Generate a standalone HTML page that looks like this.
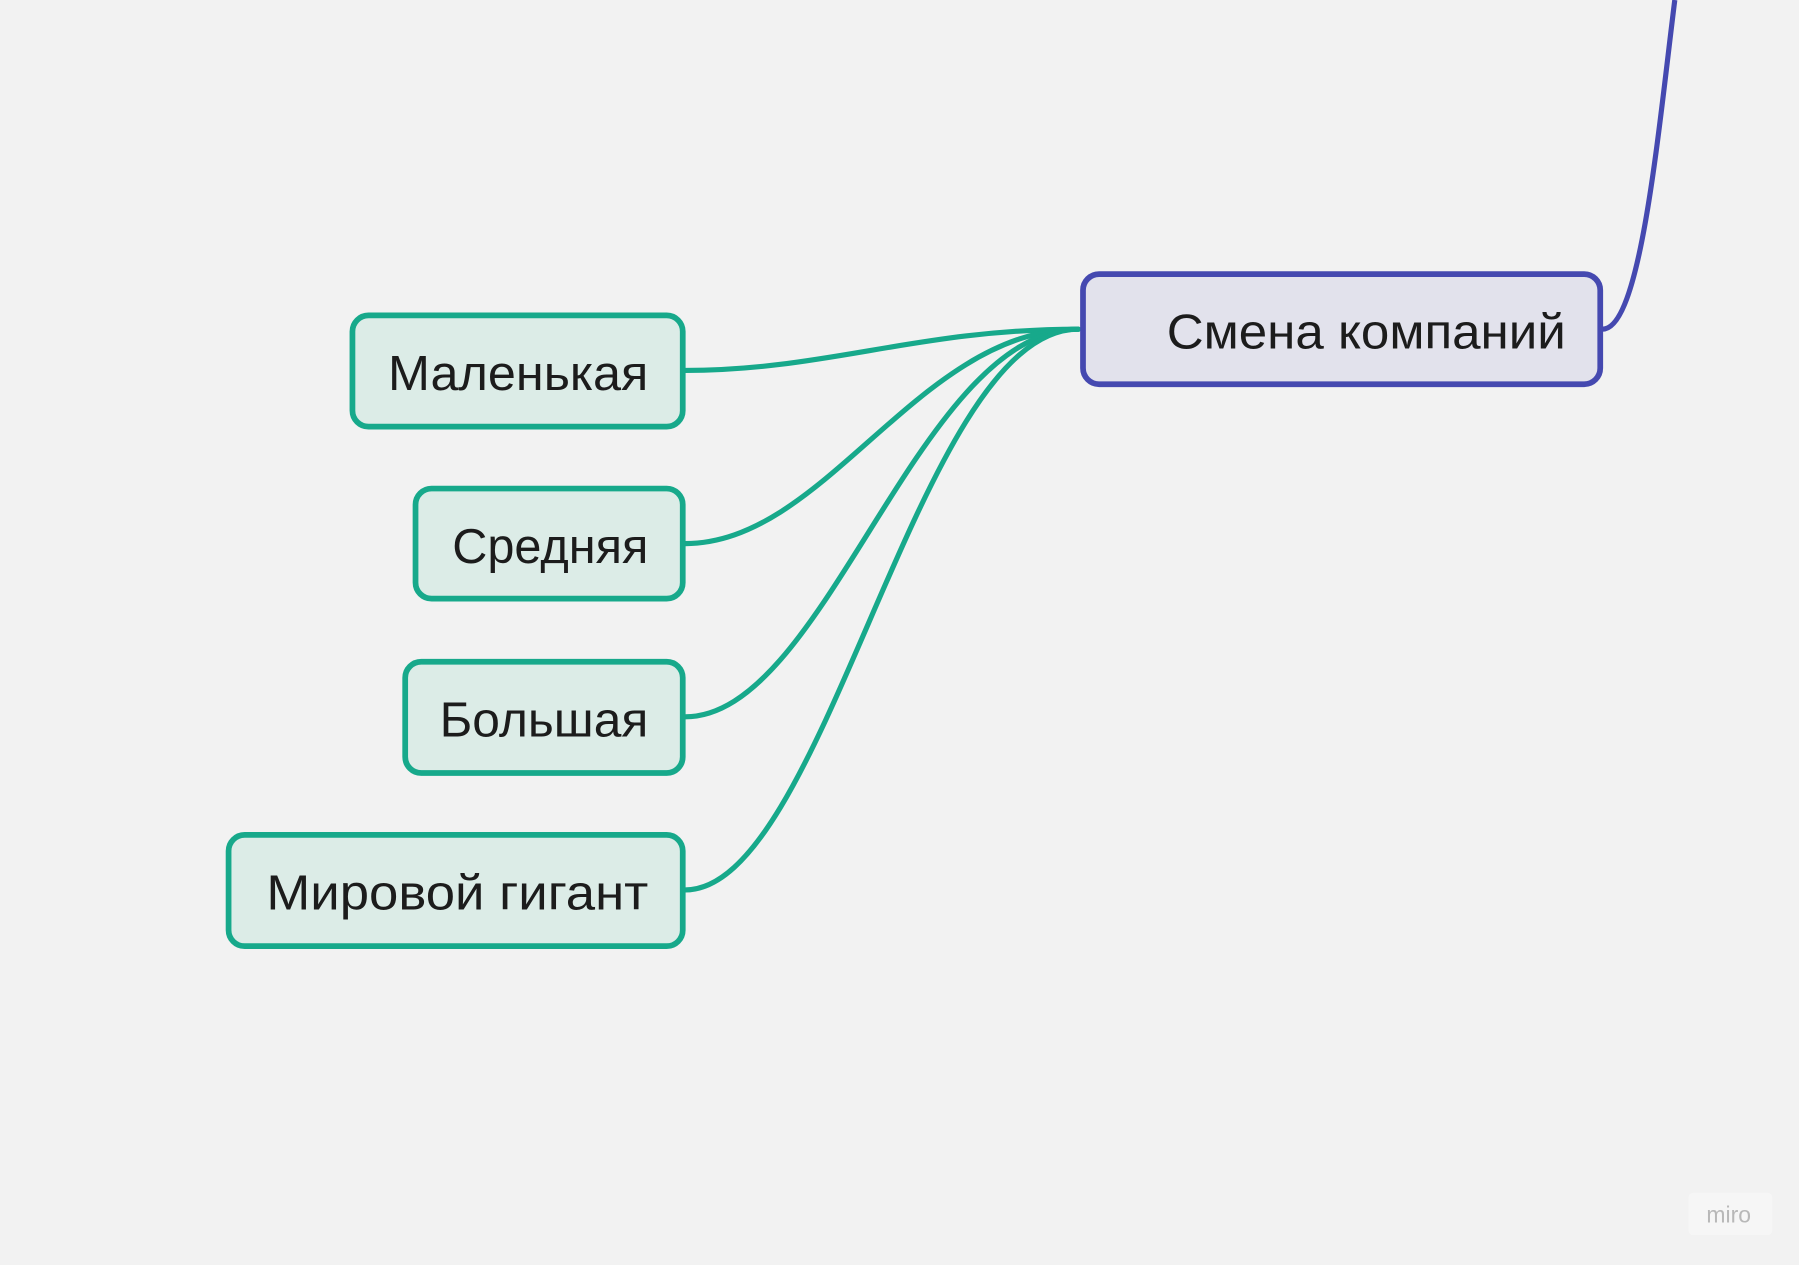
<!DOCTYPE html>
<html><head><meta charset="utf-8"><style>
html,body{margin:0;padding:0;background:#f2f2f2;}
svg{display:block;}
text{font-family:"Liberation Sans","DejaVu Sans",sans-serif;}
</style></head><body>
<svg width="1799" height="1265" viewBox="0 0 1568 1103" xmlns="http://www.w3.org/2000/svg">
<rect width="1568" height="1103" fill="#f2f2f2"/>
<g fill="none" stroke="#17a98b" stroke-width="4.5" stroke-linecap="round">
<path d="M597 323 C720 323 800 287 940 287"/>
<path d="M597 474 C720 474 800 287 940 287"/>
<path d="M597 625 C720 625 800 287 940 287"/>
<path d="M597 776 C720 776 800 287 940 287"/>
</g>
<path d="M1397 287 C1430 287 1445 120 1460 0" fill="none" stroke="#4549b0" stroke-width="4.5"/>
<g stroke="#17a98b" stroke-width="5" fill="#dcece7">
<rect x="307" y="275" width="288" height="97" rx="14"/>
<rect x="362" y="426" width="233" height="96" rx="14"/>
<rect x="353" y="577" width="242" height="97" rx="14"/>
<rect x="199" y="728" width="396" height="97" rx="14"/>
</g>
<rect x="944" y="239" width="451" height="96" rx="14" fill="#e2e2ec" stroke="#4549b0" stroke-width="5"/>
<g font-size="43" fill="#1c1c1c">
<text x="338" y="340" textLength="227" lengthAdjust="spacingAndGlyphs">Маленькая</text>
<text x="394" y="491" textLength="171" lengthAdjust="spacingAndGlyphs">Средняя</text>
<text x="383" y="642" textLength="182" lengthAdjust="spacingAndGlyphs">Большая</text>
<text x="232" y="793" textLength="333" lengthAdjust="spacingAndGlyphs">Мировой гигант</text>
<text x="1017" y="304" textLength="348" lengthAdjust="spacingAndGlyphs">Смена компаний</text>
</g>
<rect x="1472" y="1040" width="73" height="37" rx="4" fill="#f6f6f6"/>
<text x="1507" y="1066" font-size="20" fill="#b8b8b8" text-anchor="middle">miro</text>
</svg>
</body></html>
